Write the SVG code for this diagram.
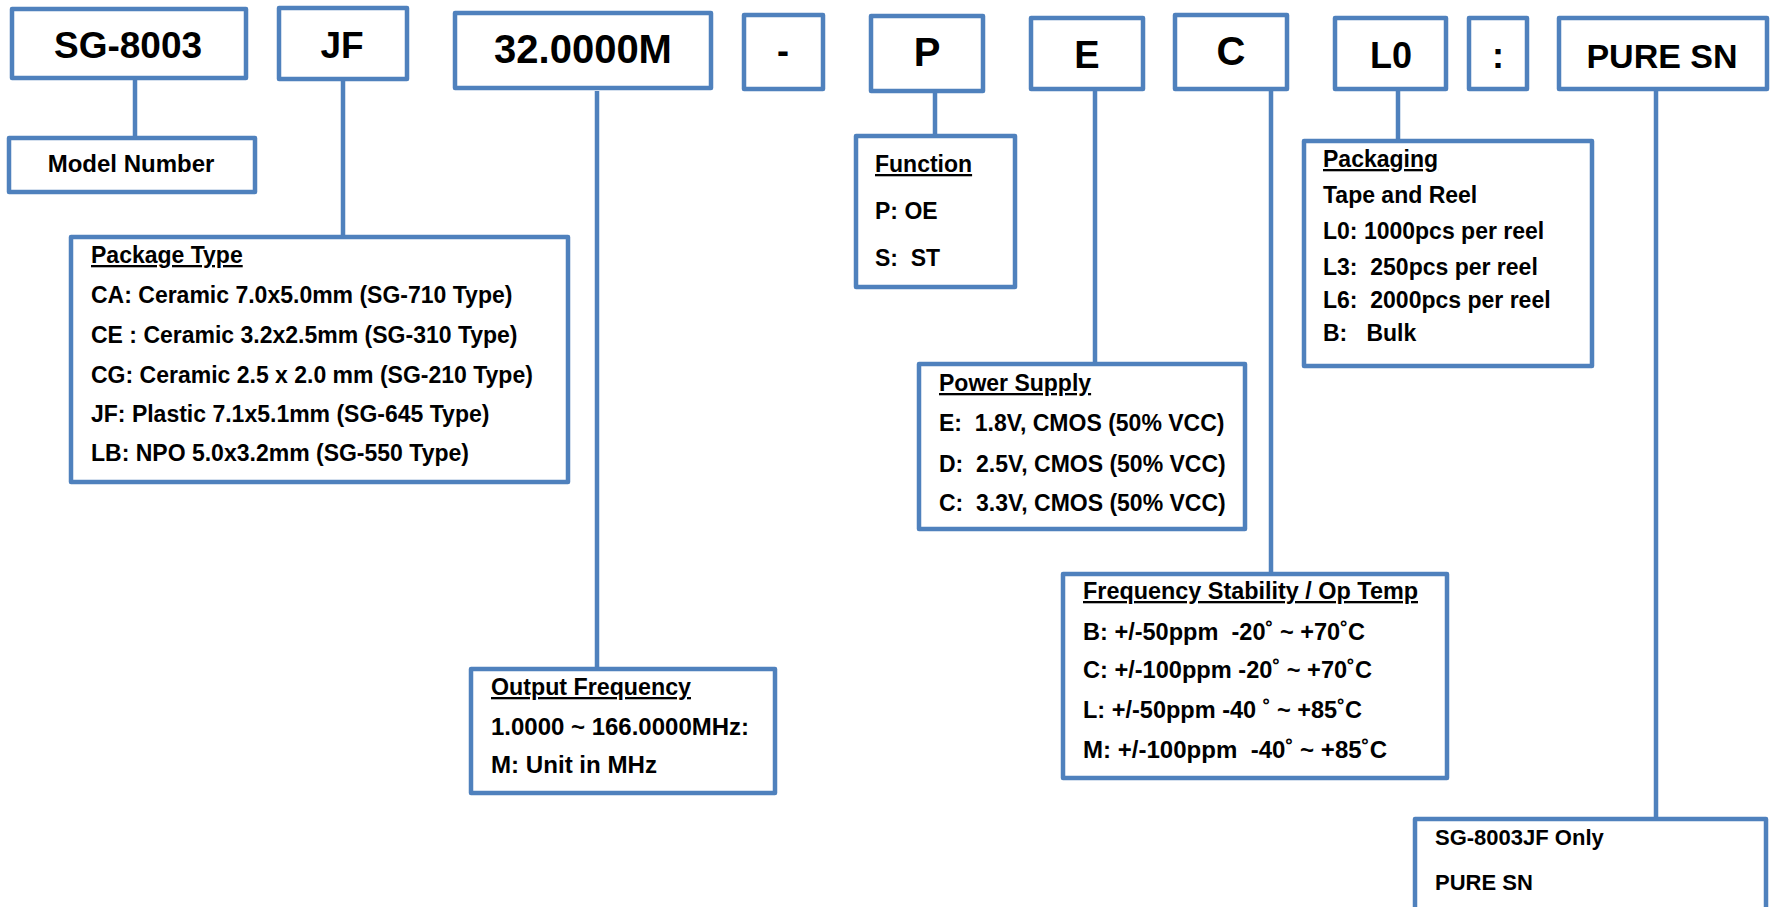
<svg xmlns="http://www.w3.org/2000/svg" width="1771" height="907" viewBox="0 0 1771 907">
<style>
.box{fill:#fff;stroke:#4F81BD;stroke-width:4.5;stroke-linejoin:round}
.con{stroke:#4F81BD;stroke-width:4.5;fill:none}
text{font-family:"Liberation Sans",Arial,sans-serif;font-weight:bold;fill:#000}
.big{text-anchor:middle}
.b{font-size:23px}
.u{text-decoration:underline}
</style>
<rect width="1771" height="907" fill="#fff"/>
<g id="connectors">
<line class="con" x1="135" y1="80" x2="135" y2="137"/>
<line class="con" x1="343" y1="81" x2="343" y2="236"/>
<line class="con" x1="597" y1="91" x2="597" y2="668"/>
<line class="con" x1="935" y1="93" x2="935" y2="135"/>
<line class="con" x1="1095" y1="91" x2="1095" y2="363"/>
<line class="con" x1="1271" y1="91" x2="1271" y2="573"/>
<line class="con" x1="1398" y1="91" x2="1398" y2="140"/>
<line class="con" x1="1656" y1="91" x2="1656" y2="818"/>
</g>
<g id="sg8003"><rect class="box" x="12" y="9" width="234" height="69"/><text class="big" x="128" y="58" font-size="37">SG-8003</text></g>
<g id="jf"><rect class="box" x="279" y="8" width="128" height="71"/><text class="big" x="342" y="58" font-size="37">JF</text></g>
<g id="freq"><rect class="box" x="455" y="13" width="256" height="75"/><text class="big" x="583" y="63" font-size="40">32.0000M</text></g>
<g id="dash"><rect class="box" x="744" y="15" width="79" height="74"/><text class="big" x="783" y="63" font-size="36">-</text></g>
<g id="p"><rect class="box" x="871" y="16" width="112" height="75"/><text class="big" x="927" y="66" font-size="40">P</text></g>
<g id="e"><rect class="box" x="1031" y="18" width="112" height="71"/><text class="big" x="1087" y="68" font-size="38">E</text></g>
<g id="c"><rect class="box" x="1175" y="15" width="112" height="74"/><text class="big" x="1231" y="65" font-size="40">C</text></g>
<g id="l0"><rect class="box" x="1335" y="18" width="111" height="71"/><text class="big" x="1391" y="68" font-size="36">L0</text></g>
<g id="colon"><rect class="box" x="1469" y="18" width="58" height="71"/><text class="big" x="1498" y="68" font-size="36">:</text></g>
<g id="puresn"><rect class="box" x="1559" y="18" width="208" height="71"/><text class="big" x="1662" y="68" font-size="34">PURE SN</text></g>
<g id="model-number"><rect class="box" x="9" y="138" width="246" height="54"/><text class="big" x="131" y="172" font-size="24">Model Number</text></g>
<g id="package-type"><rect class="box" x="71" y="237" width="497" height="245"/>
<text class="b u" x="91" y="263">Package Type</text>
<text class="b" x="91" y="303">CA: Ceramic 7.0x5.0mm (SG-710 Type)</text>
<text class="b" x="91" y="343">CE : Ceramic 3.2x2.5mm (SG-310 Type)</text>
<text class="b" x="91" y="383">CG: Ceramic 2.5 x 2.0 mm (SG-210 Type)</text>
<text class="b" x="91" y="422">JF: Plastic 7.1x5.1mm (SG-645 Type)</text>
<text class="b" x="91" y="461">LB: NPO 5.0x3.2mm (SG-550 Type)</text>
</g>
<g id="output-frequency"><rect class="box" x="471" y="669" width="304" height="124"/>
<text class="b u" x="491" y="695" textLength="200" lengthAdjust="spacingAndGlyphs">Output Frequency</text>
<text class="b" x="491" y="735" textLength="258" lengthAdjust="spacingAndGlyphs">1.0000 ~ 166.0000MHz:</text>
<text class="b" x="491" y="773" textLength="166" lengthAdjust="spacingAndGlyphs">M: Unit in MHz</text>
</g>
<g id="function"><rect class="box" x="856" y="136" width="159" height="151"/>
<text class="b u" x="875" y="172">Function</text>
<text class="b" x="875" y="219">P: OE</text>
<text class="b" x="875" y="266" xml:space="preserve">S:  ST</text>
</g>
<g id="power-supply"><rect class="box" x="919" y="364" width="326" height="165"/>
<text class="b u" x="939" y="391">Power Supply</text>
<text class="b" x="939" y="431" xml:space="preserve">E:  1.8V, CMOS (50% VCC)</text>
<text class="b" x="939" y="472" xml:space="preserve">D:  2.5V, CMOS (50% VCC)</text>
<text class="b" x="939" y="511" xml:space="preserve">C:  3.3V, CMOS (50% VCC)</text>
</g>
<g id="frequency-stability"><rect class="box" x="1063" y="574" width="384" height="204"/>
<text class="b u" x="1083" y="599" textLength="335" lengthAdjust="spacingAndGlyphs">Frequency Stability / Op Temp</text>
<text class="b" x="1083" y="640" xml:space="preserve" textLength="282" lengthAdjust="spacingAndGlyphs">B: +/-50ppm  -20˚ ~ +70˚C</text>
<text class="b" x="1083" y="678" xml:space="preserve" textLength="289" lengthAdjust="spacingAndGlyphs">C: +/-100ppm -20˚ ~ +70˚C</text>
<text class="b" x="1083" y="718" xml:space="preserve" textLength="279" lengthAdjust="spacingAndGlyphs">L: +/-50ppm -40 ˚ ~ +85˚C</text>
<text class="b" x="1083" y="758" xml:space="preserve" textLength="304" lengthAdjust="spacingAndGlyphs">M: +/-100ppm  -40˚ ~ +85˚C</text>
</g>
<g id="packaging"><rect class="box" x="1304" y="141" width="288" height="225"/>
<text class="b u" x="1323" y="167">Packaging</text>
<text class="b" x="1323" y="203">Tape and Reel</text>
<text class="b" x="1323" y="239">L0: 1000pcs per reel</text>
<text class="b" x="1323" y="275" xml:space="preserve">L3:  250pcs per reel</text>
<text class="b" x="1323" y="308" xml:space="preserve">L6:  2000pcs per reel</text>
<text class="b" x="1323" y="341" xml:space="preserve">B:   Bulk</text>
</g>
<g id="pure-sn-note"><rect class="box" x="1415" y="819" width="351" height="100"/>
<text x="1435" y="845" font-size="22">SG-8003JF Only</text>
<text x="1435" y="890" font-size="22">PURE SN</text>
</g>
</svg>
